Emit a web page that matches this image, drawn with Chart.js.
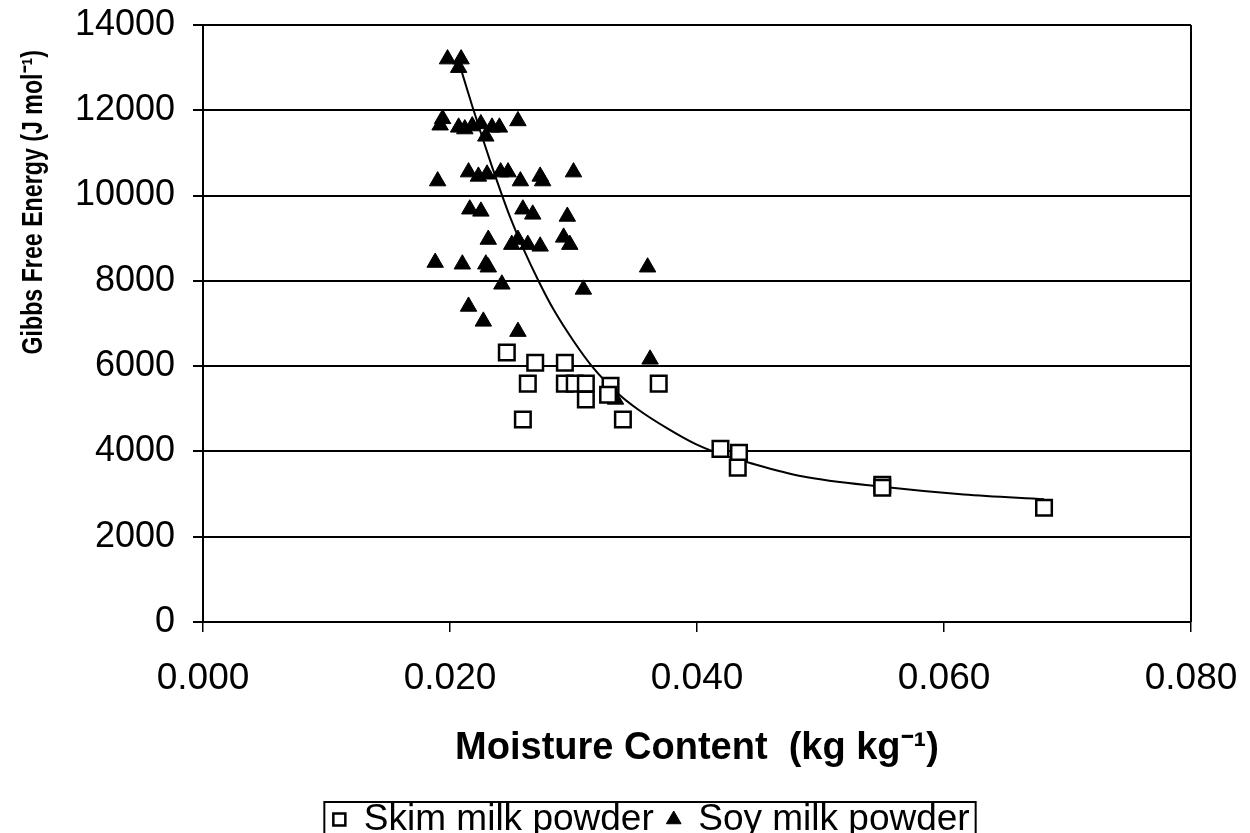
<!DOCTYPE html>
<html>
<head>
<meta charset="utf-8">
<title>Gibbs Free Energy vs Moisture Content</title>
<script src="https://cdn.jsdelivr.net/npm/chart.js@4.4.1/dist/chart.umd.min.js"></script>
<style>
  html, body { margin: 0; padding: 0; background: #fff; }
  #wrap { width: 1250px; height: 833px; }
</style>
</head>
<body>
<div id="wrap"><canvas id="gibbsChart" width="1250" height="833"></canvas></div>
<script>
// Skim milk powder (open squares)
const skimX = [0.0246, 0.0269, 0.0293, 0.0263, 0.0293, 0.0301, 0.0310, 0.0310, 0.0330, 0.0328,
               0.0369, 0.0259, 0.0340, 0.0419, 0.0434, 0.0433, 0.0550, 0.0550, 0.0681];
const skimY = [6320, 6080, 6080, 5590, 5590, 5590, 5590, 5220, 5540, 5330,
               5590, 4750, 4750, 4060, 3970, 3620, 3220, 3150, 2680];

// Soy milk powder (filled triangles)
const soyX = [0.0198, 0.0209, 0.0207, 0.0194, 0.0192, 0.0207, 0.0212, 0.0218, 0.0225, 0.0229,
              0.0234, 0.0240, 0.0255, 0.0190, 0.0215, 0.0223, 0.0230, 0.0241, 0.0247, 0.0257,
              0.0273, 0.0275, 0.0300, 0.0216, 0.0225, 0.0259, 0.0267, 0.0295, 0.0231, 0.0250,
              0.0255, 0.0263, 0.0273, 0.0292, 0.0297, 0.0188, 0.0210, 0.0229, 0.0231, 0.0360,
              0.0242, 0.0308, 0.0215, 0.0227, 0.0255, 0.0362, 0.0334];
const soyY = [13200, 13200, 13000, 11800, 11650, 11600, 11560, 11630, 11680, 11390,
              11600, 11600, 11750, 10340, 10550, 10450, 10500, 10550, 10550, 10340,
              10450, 10340, 10550, 9680, 9630, 9680, 9560, 9510, 8970, 8850,
              8970, 8850, 8810, 9020, 8850, 8430, 8390, 8390, 8320, 8320,
              7920, 7800, 7400, 7050, 6810, 6160, 5220];

// Fitted curve
const fitX = [0.0208, 0.0218, 0.0226, 0.0234, 0.0241, 0.0249, 0.0259, 0.0272, 0.0284, 0.0300,
              0.0316, 0.0336, 0.0352, 0.0376, 0.0399, 0.0414, 0.0443, 0.0486, 0.0550, 0.0616, 0.0681];
const fitY = [13050, 12100, 11380, 10680, 10100, 9470, 8780, 7980, 7320, 6590,
              5960, 5360, 4990, 4540, 4170, 3990, 3730, 3410, 3170, 2990, 2880];

const xTicks = [0, 0.02, 0.04, 0.06, 0.08];
const yTicks = [0, 2000, 4000, 6000, 8000, 10000, 12000, 14000];

const yTitle = 'Gibbs Free Energy (J mol\u207B\u00B9)';
const xTitle = 'Moisture Content  (kg kg\u207B\u00B9)';

function toPoints(xs, ys) {
  return xs.map((x, i) => ({ x: x, y: ys[i] }));
}

const FONT = "'Liberation Sans', Arial, Helvetica, sans-serif";
const PAD_BOTTOM = -15;
const LEGEND_SHIFT = 56;

// right edge of the plot box
const frameRight = {
  id: 'frameRight',
  afterDraw(chart) {
    const a = chart.chartArea;
    const c = chart.ctx;
    c.save();
    c.strokeStyle = '#000';
    c.lineWidth = 2;
    c.beginPath();
    c.moveTo(a.right, a.top);
    c.lineTo(a.right, a.bottom);
    c.stroke();
    c.restore();
  }
};

// y title in a narrow bold face, like the original
const yTitlePlugin = {
  id: 'yTitlePlugin',
  afterDraw(chart) {
    const c = chart.ctx;
    c.save();
    c.translate(34, 50);
    c.rotate(-Math.PI / 2);
    c.scale(0.8, 1);
    c.font = 'bold 29px ' + FONT;
    c.fillStyle = '#000';
    c.textAlign = 'right';
    c.textBaseline = 'middle';
    c.fillText(yTitle, 0, 0);
    c.restore();
  }
};

// move the legend a little right, as in the original
const legendShift = {
  id: 'legendShift',
  afterLayout(chart) {
    if (!chart.legend) return;
    chart.legend.left += LEGEND_SHIFT;
    chart.legend.right += LEGEND_SHIFT;
  }
};

// border round the legend
const legendBox = {
  id: 'legendBox',
  afterDraw(chart) {
    const lg = chart.legend;
    if (!lg || !lg.legendHitBoxes || !lg.legendHitBoxes.length) return;
    const hb = lg.legendHitBoxes;
    const last = hb[hb.length - 1];
    const left = hb[0].left - 9;
    const right = last.left + last.width + 6;
    const c = chart.ctx;
    c.save();
    c.strokeStyle = '#000';
    c.lineWidth = 2;
    c.strokeRect(left, 802, right - left, 40);
    c.restore();
  }
};

const ctx = document.getElementById('gibbsChart').getContext('2d');
new Chart(ctx, {
  type: 'scatter',
  data: {
    datasets: [
      {
        label: 'Skim milk powder',
        data: toPoints(skimX, skimY),
        pointStyle: 'rect',
        pointRadius: 11,
        backgroundColor: '#fff',
        borderColor: '#000',
        borderWidth: 2.5
      },
      {
        label: 'Soy milk powder',
        data: toPoints(soyX, soyY),
        pointStyle: 'triangle',
        pointRadius: 9.5,
        backgroundColor: '#000',
        borderColor: '#000',
        borderWidth: 1
      },
      {
        label: 'fit',
        data: toPoints(fitX, fitY),
        showLine: true,
        pointRadius: 0,
        borderColor: '#000',
        borderWidth: 2,
        cubicInterpolationMode: 'monotone',
        fill: false
      }
    ]
  },
  options: {
    responsive: false,
    animation: false,
    devicePixelRatio: 1,
    layout: { padding: { top: 25, right: 59, left: 0, bottom: PAD_BOTTOM } },
    plugins: {
      tooltip: { enabled: false },
      legend: {
        position: 'bottom',
        labels: {
          usePointStyle: true,
          boxWidth: 12,
          boxHeight: 12,
          padding: 14,
          color: '#000',
          font: { family: FONT, size: 37 },
          filter: item => item.datasetIndex < 2
        }
      }
    },
    scales: {
      x: {
        type: 'linear',
        min: 0,
        max: 0.08,
        afterBuildTicks: s => { s.ticks = xTicks.map(v => ({ value: v })); },
        afterFit: s => {
          const lh = s.chart.legend ? s.chart.legend.height : 0;
          s.height = s.chart.height - 622 - lh - PAD_BOTTOM;
          s.paddingLeft = 0;
          s.paddingRight = 0;
        },
        ticks: {
          color: '#000',
          padding: 25,
          font: { family: FONT, size: 37 },
          callback: v => v.toFixed(3)
        },
        grid: { drawOnChartArea: false, drawTicks: true, tickLength: 10, color: '#000', lineWidth: 1.5 },
        border: { display: true, color: '#000', width: 2 },
        title: {
          display: true,
          text: xTitle,
          color: '#000',
          font: { family: FONT, size: 38, weight: 'bold' },
          padding: { top: 0, bottom: 16 }
        }
      },
      y: {
        min: 0,
        max: 14000,
        afterBuildTicks: s => { s.ticks = yTicks.map(v => ({ value: v })); },
        afterFit: s => {
          s.width = 203;
          s.paddingTop = 0;
          s.paddingBottom = 0;
        },
        ticks: {
          color: '#000',
          padding: 18,
          font: { family: FONT, size: 36 },
          callback: v => String(v)
        },
        grid: { color: '#000', lineWidth: 2, drawTicks: true, tickLength: 10 },
        border: { display: true, color: '#000', width: 2 },
        title: { display: false }
      }
    }
  },
  plugins: [legendShift, frameRight, legendBox, yTitlePlugin]
});
</script>
</body>
</html>
